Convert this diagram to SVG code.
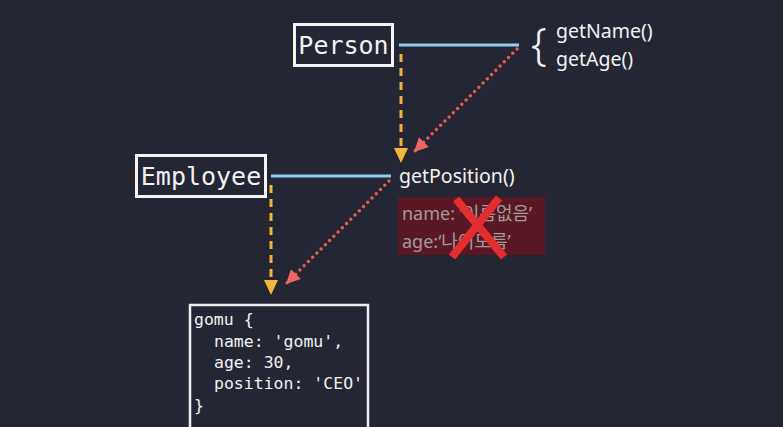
<svg xmlns="http://www.w3.org/2000/svg" width="783" height="427" viewBox="0 0 783 427">
<defs>
<style>
.box{fill:none;stroke:#f4f4f4;stroke-width:3}
.cls{font-family:"DejaVu Sans Mono","Liberation Mono",monospace;font-size:25px;fill:#f2f2f2}
.m{font-family:"Noto Sans","Open Sans",sans-serif;font-size:19.5px;fill:#f2f2f2}
.dim{font-family:"Noto Sans","Noto Sans CJK KR",sans-serif;font-size:18px;fill:#a29a9c}
.code{font-family:"DejaVu Sans Mono","Liberation Mono",monospace;font-size:16.5px;fill:#f2f2f2}
.blue{stroke:#8fd0f0;stroke-width:3}
.orange{stroke:#f2b23e;stroke-width:3;stroke-dasharray:8 6;fill:none}
.red{stroke:#e35b5e;stroke-width:3.5;stroke-dasharray:0 6;stroke-linecap:round;fill:none}
.ahead{fill:#f5b63c}
</style>
<marker id="ar" viewBox="0 0 10 10" refX="10" refY="5" markerWidth="15" markerHeight="14" orient="auto" markerUnits="userSpaceOnUse"><path d="M0,0 L10,5 L0,10 z" fill="#ef6464"/></marker>
</defs>
<rect width="783" height="427" fill="#242633"/>

<g id="connectors">
<line class="blue" x1="399" y1="45" x2="519" y2="45"/>
<line class="blue" x1="271" y1="176" x2="391" y2="176"/>
<line class="orange" x1="401" y1="54" x2="401" y2="146"/>
<line class="orange" x1="271" y1="185" x2="271" y2="278"/>
<path class="ahead" d="M401,163 L394,148 L408,148 z"/>
<path class="ahead" d="M271,295 L264,280 L278,280 z"/>
<path class="red" d="M517,49 L414,152" marker-end="url(#ar)"/>
<path class="red" d="M389,181 L286,284" marker-end="url(#ar)"/>
</g>

<g id="person">
<rect class="box" x="294.5" y="24.5" width="98" height="41"/>
<text class="cls" x="343.5" y="54" text-anchor="middle">Person</text>
</g>

<g id="person-methods">
<text x="531" y="60" font-family="Noto Sans, sans-serif" font-size="44" font-weight="300" fill="#f2f2f2">{</text>
<text class="m" x="556" y="38">getName()</text>
<text class="m" x="556" y="66">getAge()</text>
</g>

<g id="employee">
<rect class="box" x="136.5" y="155.5" width="129" height="41"/>
<text class="cls" x="201" y="185" text-anchor="middle">Employee</text>
</g>

<g id="employee-methods">
<text class="m" x="399" y="183">getPosition()</text>
</g>

<g id="removed-props">
<rect x="398" y="197" width="147" height="58" fill="#5a1825"/>
<text class="dim" x="402" y="220">name: ‘이름없음’</text>
<text class="dim" x="402" y="248">age:‘나이모름’</text>
<path d="M456,199 L504,257 M499,198 L452,257" stroke="#e32e30" stroke-width="8" fill="none"/>
</g>

<g id="gomu">
<rect x="190" y="305" width="178" height="130" fill="none" stroke="#eeeeee" stroke-width="2.5"/>
<text class="code" x="194" y="325">gomu {</text>
<text class="code" x="214" y="347">name: 'gomu',</text>
<text class="code" x="214" y="368">age: 30,</text>
<text class="code" x="214" y="389">position: 'CEO'</text>
<text class="code" x="194" y="411">}</text>
</g>
</svg>
